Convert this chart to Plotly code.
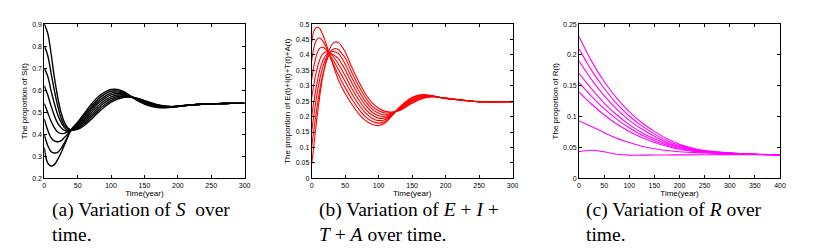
import plotly.graph_objects as go

# ---------------- data ----------------
T_A = [0, 5, 10, 15, 20, 25, 30, 35, 40, 50, 60, 70, 80, 90, 100, 110, 120, 130,
       140, 150, 160, 170, 180, 190, 200, 220, 240, 260, 280, 300]
S1 = [0.9, 0.86, 0.77, 0.66, 0.57, 0.5, 0.455, 0.43, 0.42, 0.422, 0.44, 0.467, 0.497, 0.524, 0.546, 0.56, 0.568, 0.569,
      0.563, 0.553, 0.543, 0.534, 0.528, 0.526, 0.528, 0.533, 0.537, 0.539, 0.54, 0.54]
S2 = [0.8, 0.76, 0.68, 0.6, 0.53, 0.475, 0.44, 0.425, 0.418, 0.427, 0.448, 0.477, 0.507, 0.533, 0.554, 0.566, 0.571, 0.569,
      0.561, 0.551, 0.541, 0.532, 0.527, 0.525, 0.527, 0.533, 0.537, 0.539, 0.54, 0.54]
S3 = [0.7, 0.665, 0.6, 0.54, 0.49, 0.455, 0.43, 0.418, 0.416, 0.431, 0.456, 0.486, 0.517, 0.543, 0.562, 0.572, 0.575, 0.57,
      0.56, 0.548, 0.538, 0.53, 0.526, 0.525, 0.527, 0.533, 0.537, 0.539, 0.54, 0.54]
S4 = [0.62, 0.58, 0.53, 0.485, 0.45, 0.43, 0.418, 0.414, 0.416, 0.436, 0.464, 0.496, 0.527, 0.552, 0.57, 0.578, 0.578, 0.57,
      0.558, 0.546, 0.536, 0.528, 0.525, 0.524, 0.527, 0.533, 0.537, 0.539, 0.54, 0.54]
S5 = [0.54, 0.5, 0.46, 0.43, 0.41, 0.403, 0.404, 0.41, 0.418, 0.441, 0.471, 0.506, 0.538, 0.562, 0.579, 0.585, 0.582, 0.571,
      0.557, 0.544, 0.534, 0.527, 0.523, 0.524, 0.527, 0.533, 0.537, 0.539, 0.54, 0.54]
S6 = [0.47, 0.42, 0.385, 0.37, 0.366, 0.37, 0.385, 0.4, 0.418, 0.446, 0.479, 0.516, 0.548, 0.571, 0.587, 0.591, 0.585, 0.571,
      0.555, 0.542, 0.532, 0.525, 0.522, 0.523, 0.526, 0.533, 0.537, 0.539, 0.54, 0.54]
S7 = [0.4, 0.35, 0.322, 0.315, 0.318, 0.335, 0.36, 0.39, 0.42, 0.45, 0.487, 0.525, 0.558, 0.581, 0.595, 0.597, 0.589, 0.572,
      0.553, 0.539, 0.529, 0.523, 0.521, 0.523, 0.526, 0.533, 0.537, 0.539, 0.54, 0.54]
S8 = [0.34, 0.27, 0.256, 0.262, 0.285, 0.315, 0.35, 0.385, 0.42, 0.455, 0.495, 0.535, 0.568, 0.59, 0.603, 0.603, 0.592, 0.572,
      0.552, 0.537, 0.527, 0.521, 0.52, 0.522, 0.526, 0.533, 0.537, 0.539, 0.54, 0.54]

T_B = [0, 3, 6, 9, 12, 15, 18, 21, 24, 27, 30, 35, 40, 45, 50, 60, 70, 80, 90, 100, 110, 120,
       130, 140, 150, 160, 170, 180, 190, 200, 220, 240, 260, 280, 300]
B1 = [0.44, 0.475, 0.488, 0.49, 0.486, 0.474, 0.458, 0.44, 0.42, 0.4, 0.38, 0.348, 0.318, 0.295, 0.275, 0.24, 0.21, 0.188,
      0.175, 0.171, 0.18, 0.203, 0.228, 0.248, 0.263, 0.27, 0.271, 0.268, 0.263, 0.259, 0.254, 0.25, 0.248, 0.248, 0.248]
B2 = [0.38, 0.42, 0.443, 0.453, 0.455, 0.45, 0.44, 0.428, 0.414, 0.398, 0.382, 0.358, 0.335, 0.314, 0.294, 0.257, 0.225, 0.2,
      0.185, 0.179, 0.185, 0.205, 0.227, 0.245, 0.26, 0.268, 0.27, 0.267, 0.263, 0.259, 0.254, 0.25, 0.248, 0.248, 0.248]
B3 = [0.32, 0.36, 0.39, 0.41, 0.421, 0.425, 0.424, 0.418, 0.41, 0.4, 0.39, 0.372, 0.353, 0.333, 0.314, 0.274, 0.24, 0.213,
      0.195, 0.187, 0.191, 0.206, 0.225, 0.243, 0.257, 0.265, 0.268, 0.267, 0.263, 0.259, 0.254, 0.25, 0.248, 0.248, 0.248]
B4 = [0.26, 0.3, 0.335, 0.363, 0.384, 0.398, 0.406, 0.41, 0.409, 0.405, 0.4, 0.387, 0.37, 0.352, 0.333, 0.291, 0.255, 0.225,
      0.205, 0.195, 0.196, 0.208, 0.224, 0.24, 0.254, 0.263, 0.267, 0.266, 0.263, 0.259, 0.254, 0.25, 0.248, 0.248, 0.248]
B5 = [0.2, 0.245, 0.285, 0.32, 0.35, 0.372, 0.388, 0.399, 0.405, 0.406, 0.404, 0.397, 0.388, 0.371, 0.352, 0.309, 0.27, 0.238,
      0.215, 0.203, 0.201, 0.21, 0.223, 0.238, 0.252, 0.261, 0.265, 0.266, 0.263, 0.26, 0.255, 0.25, 0.248, 0.248, 0.248]
B6 = [0.15, 0.2, 0.245, 0.285, 0.32, 0.348, 0.37, 0.388, 0.4, 0.408, 0.412, 0.41, 0.405, 0.39, 0.371, 0.326, 0.285, 0.25,
      0.225, 0.211, 0.206, 0.212, 0.222, 0.235, 0.249, 0.259, 0.264, 0.265, 0.263, 0.26, 0.255, 0.25, 0.248, 0.248, 0.248]
B7 = [0.1, 0.152, 0.2, 0.245, 0.285, 0.32, 0.348, 0.372, 0.39, 0.405, 0.415, 0.421, 0.417, 0.405, 0.391, 0.343, 0.3, 0.263,
      0.235, 0.219, 0.212, 0.213, 0.22, 0.233, 0.246, 0.256, 0.262, 0.265, 0.263, 0.26, 0.255, 0.25, 0.248, 0.248, 0.248]
B8 = [0.045, 0.1, 0.16, 0.215, 0.265, 0.31, 0.345, 0.375, 0.4, 0.42, 0.433, 0.442, 0.44, 0.428, 0.41, 0.36, 0.315, 0.275,
      0.245, 0.227, 0.217, 0.215, 0.219, 0.23, 0.243, 0.254, 0.261, 0.264, 0.263, 0.26, 0.255, 0.25, 0.248, 0.248, 0.248]

T_C = [0, 25, 50, 75, 100, 125, 150, 175, 200, 225, 250, 300, 350, 400]
R1 = [0.23, 0.19, 0.157, 0.13, 0.108, 0.09, 0.076, 0.064, 0.055, 0.049, 0.045, 0.041, 0.039, 0.038]
R2 = [0.21, 0.175, 0.146, 0.121, 0.101, 0.085, 0.072, 0.061, 0.053, 0.048, 0.044, 0.041, 0.039, 0.038]
R3 = [0.19, 0.16, 0.134, 0.112, 0.094, 0.08, 0.068, 0.058, 0.051, 0.047, 0.044, 0.041, 0.039, 0.038]
R4 = [0.17, 0.145, 0.122, 0.103, 0.087, 0.074, 0.064, 0.056, 0.05, 0.046, 0.043, 0.041, 0.039, 0.038]
R5 = [0.155, 0.133, 0.113, 0.096, 0.082, 0.07, 0.061, 0.054, 0.048, 0.045, 0.043, 0.041, 0.039, 0.038]
R6 = [0.14, 0.12, 0.103, 0.088, 0.076, 0.066, 0.058, 0.052, 0.047, 0.044, 0.042, 0.04, 0.039, 0.038]
R7 = [0.093, 0.084, 0.074, 0.065, 0.058, 0.052, 0.048, 0.045, 0.043, 0.042, 0.041, 0.04, 0.039, 0.038]
R8 = [0.043, 0.0455, 0.043, 0.039, 0.0375, 0.0375, 0.0377, 0.0378, 0.038, 0.038, 0.0382, 0.0383, 0.0383, 0.0383]

Y_TITLES = ["The proportion of S(t)", "The proportion of E(t)+I(t)+T(t)+A(t)", "The proportion of R(t)"]
X_TITLE = "Time(year)"
CAPTIONS = [
    ["(a) Variation of <i>S</i>  over", "time."],
    ["(b) Variation of <i>E</i> + <i>I</i> +", "<i>T</i> + <i>A</i> over time."],
    ["(c) Variation of <i>R</i> over", "time."],
]

# ---------------- figure ----------------
W, H = 818, 250
fig = go.Figure()

def px_x(p):
    return p / W

def px_y(p):
    return 1 - p / H

y_dom = [px_y(179.3), px_y(20.7)]
x_doms = [[px_x(42.7), px_x(245.0)], [px_x(312.7), px_x(515.7)], [px_x(582.7), px_x(785.7)]]

panels = [
    (T_A, [S1, S2, S3, S4, S5, S6, S7, S8], "#000000", 1.4, [0, 300], [0.2, 0.9], 0.1),
    (T_B, [B1, B2, B3, B4, B5, B6, B7, B8], "#ff0000", 1.1, [0, 300], [0, 0.5], 0.05),
    (T_C, [R1, R2, R3, R4, R5, R6, R7, R8], "#ff00ff", 1.1, [0, 400], [0, 0.25], 0.05),
]

tick_font = dict(family="Liberation Sans, Arial, sans-serif", size=7, color="#000")
title_font = dict(family="Liberation Sans, Arial, sans-serif", size=8, color="#000")

for i, (tx, series, color, lw, xr, yr, dy) in enumerate(panels):
    n = "" if i == 0 else str(i + 1)
    for s in series:
        fig.add_trace(go.Scatter(x=tx, y=s, mode="lines", xaxis="x" + n, yaxis="y" + n,
                                 line=dict(color=color, width=lw, shape="spline", smoothing=1.0),
                                 showlegend=False, hoverinfo="skip"))
    common = dict(showline=True, linecolor="#000", linewidth=0.8, mirror="ticks", ticks="inside",
                  ticklen=3, tickwidth=0.8, tickcolor="#000", showgrid=False, zeroline=False,
                  tickfont=tick_font)
    fig.layout["xaxis" + n] = dict(domain=x_doms[i], range=xr, dtick=50, tick0=0,
                                   anchor="y" + n, title=dict(text=X_TITLE, font=title_font, standoff=2),
                                   **common)
    fig.layout["yaxis" + n] = dict(domain=y_dom, range=yr, dtick=dy, tick0=0,
                                   anchor="x" + n, title=dict(text=Y_TITLES[i], font=title_font, standoff=3),
                                   **common)

cap_x = [48, 318, 588]
for i, (l1, l2) in enumerate(CAPTIONS):
    for txt, yy in ((l1, 212), (l2, 237)):
        fig.add_annotation(x=px_x(cap_x[i]), y=px_y(yy), xref="paper", yref="paper",
                           xanchor="left", yanchor="middle", showarrow=False, text=txt,
                           font=dict(family="Liberation Serif, Times New Roman, serif", size=19.5, color="#000"))

fig.update_layout(width=W, height=H, margin=dict(l=0, r=0, t=0, b=0),
                  paper_bgcolor="white", plot_bgcolor="white")

fig.write_html("out.html", config={"displayModeBar": False},
               post_script="document.body.style.margin='0';document.body.style.overflow='hidden';")
